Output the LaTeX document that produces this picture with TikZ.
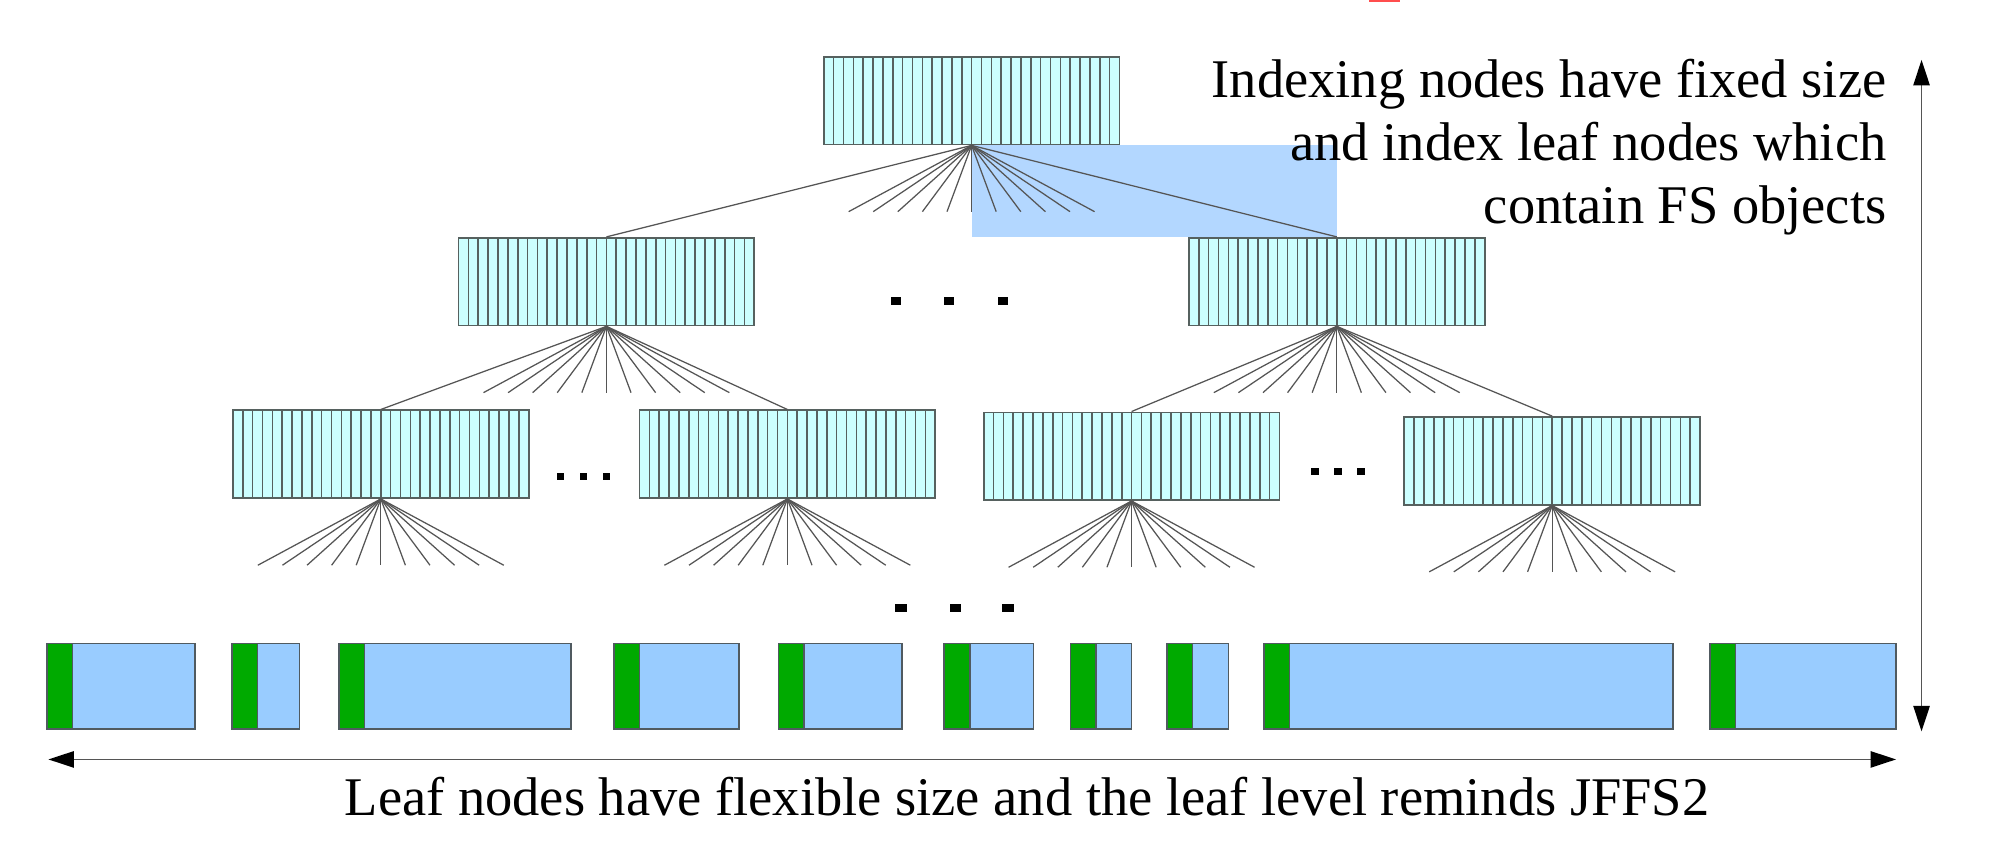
\documentclass[tikz,border=0pt]{standalone}
\usepackage{fontspec}
\setmainfont{Liberation Serif}
\usetikzlibrary{calc,backgrounds,arrows.meta}
\definecolor{idxfill}{HTML}{CCFFFF}
\definecolor{idxline}{HTML}{56615F}
\definecolor{leafblue}{HTML}{99CCFF}
\definecolor{leafgreen}{HTML}{00AA00}
\definecolor{leafedge}{HTML}{505A60}
\definecolor{hilite}{HTML}{B3D7FF}
\definecolor{wire}{HTML}{555555}
\definecolor{topred}{HTML}{FF4D4D}
\begin{document}
\begin{tikzpicture}[x=0.0125cm,y=-0.0125cm,
	font=\fontsize{15.2}{17.6}\selectfont,
	idx/.style={draw=idxline,line width=0.5pt,fill=idxfill,minimum width=2.9cm,minimum height=0.86cm,inner sep=0,
		path picture={\foreach \k in {1,...,29}
			\draw[idxline,line width=0.45pt] ($(path picture bounding box.south west)!\k/30!(path picture bounding box.south east)$) -- ($(path picture bounding box.north west)!\k/30!(path picture bounding box.north east)$);}},
	leaf/.style={draw=leafedge,line width=0.45pt,fill=leafblue,minimum height=0.8375cm,inner sep=0,
		path picture={\fill[leafgreen] (path picture bounding box.north west) rectangle ($(path picture bounding box.south west)+(20,0)$);
			\draw[leafedge,line width=0.45pt] ($(path picture bounding box.north west)+(20,0)$) -- ($(path picture bounding box.south west)+(20,0)$);}},
	wire/.style={draw=wire,line width=0.35pt},
	dimarrow/.style={draw=wire,line width=0.45pt,{Triangle[length=0.25cm,width=0.16cm,color=black]}-{Triangle[length=0.25cm,width=0.16cm,color=black]}},
	parent anchor=south,child anchor=north,
	edge from parent/.style={wire},
	level 1/.style={sibling distance=7.1625cm,level distance=1.775cm},
	level 2/.style={level distance=1.7125cm}]
\useasboundingbox (0,0) rectangle (1568,667);
\fill[topred] (1074,0) rectangle (1099,1.2);

\node (root) [idx] at (762.5,79) {}
	child {node (l2l) [idx] {} [sibling distance=3.9875cm]
		child {node (b1) [idx,xshift=-0.219cm,yshift=0.02cm] {}}
		child {node (b2) [idx,xshift=-0.219cm,yshift=0.02cm] {}}}
	child {node (l2r) [idx] {} [sibling distance=4.125cm]
		child {node (b3) [idx,xshift=0.05cm] {}}
		child {node (b4) [idx,xshift=0.05cm,yshift=-0.045cm] {}}};

\begin{scope}[on background layer]
\fill[hilite] (root.south) rectangle (l2r.north);
\end{scope}

\foreach \n in {root,l2l,l2r,b1,b2,b3,b4}
	\foreach \i in {-5,...,5}{
		\path (\n.south) ++(\i*19.3,52) coordinate (\n-leg\i);
		\draw[wire] (\n.south) -- (\n-leg\i);
	}

\foreach \x in {703,745,787} \fill (\x-4,232.7) rectangle ++(8,6.5);
\foreach \x in {707,750,791} \fill (\x-4.5,473.7) rectangle ++(9,6.5);
\foreach \x in {440,458,476} \fill (\x-3,371) rectangle ++(6,6);
\foreach \x in {1032,1050,1068} \fill (\x-3,367) rectangle ++(6,6);

\foreach \l/\r [count=\j] in {37/153,182/235,266/448,482/580,611/708,741/811,840/888,916/964,992/1313,1342/1488}
	\node (leaf\j) [leaf,minimum width={(\r-\l)*0.0125cm}] at ({(\l+\r)/2},538.5) {};

\coordinate (wl) at (38,596);
\coordinate (wr) at (1488,596);
\draw[dimarrow] (wl) -- (wr);
\coordinate (ht) at (1508,47);
\coordinate (hb) at (1508,574);
\draw[dimarrow] (ht) -- (hb);

\node (idxnote) [anchor=north east,align=right,inner sep=0] at (1481,45.5) {Indexing nodes have fixed size\\and index leaf nodes which\\contain FS objects};
\node (leafnote) [anchor=base] at (806,640) {Leaf nodes have flexible size and the leaf level reminds JFFS2};
\end{tikzpicture}
\end{document}
